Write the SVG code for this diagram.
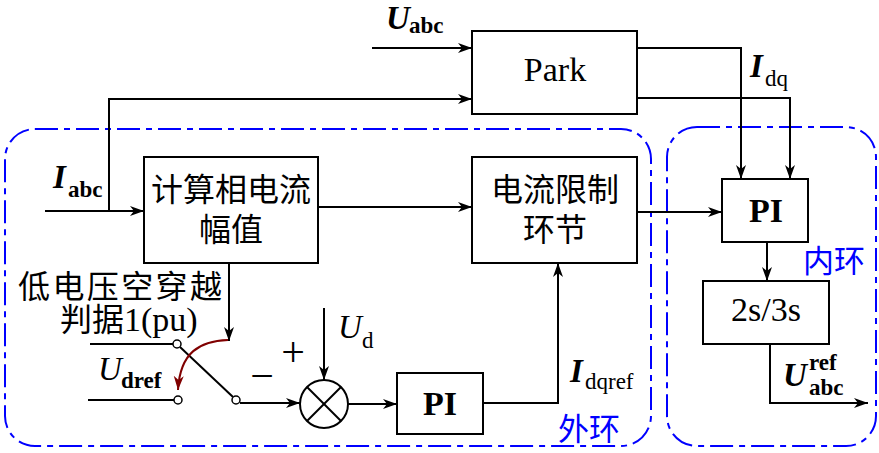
<svg xmlns="http://www.w3.org/2000/svg" width="879" height="453" viewBox="0 0 879 453">
<style>
.ln{fill:none;stroke:#000;stroke-width:2}
.box{fill:#fff;stroke:#000;stroke-width:2}
.loop{fill:none;stroke:#0000ff;stroke-width:2;stroke-dasharray:23 6 6 6}
.cjk{font-family:"Noto Sans CJK SC","Noto Sans CJK JP",sans-serif;font-size:32px;fill:#000}
.blue{fill:#0000ff;font-size:31px}
.lat{font-family:"Liberation Serif","Times New Roman",serif;fill:#000}
.big{font-size:34px}
.sym{font-size:33px;font-style:italic}
.b{font-weight:bold}
.sub{font-size:23px}
.ct{text-anchor:middle}
</style>
<defs>
<marker id="ar" markerUnits="userSpaceOnUse" markerWidth="16" markerHeight="12" refX="14" refY="5" orient="auto">
<path d="M0,0 L14,5 L0,10 L4,5 z" fill="#000"/>
</marker>
<marker id="arr" markerUnits="userSpaceOnUse" markerWidth="16" markerHeight="12" refX="14" refY="5" orient="auto">
<path d="M0,0 L14,5 L0,10 L4,5 z" fill="#800000"/>
</marker>
</defs>

<g id="loops">
<rect class="loop" x="5" y="129" width="646" height="317" rx="30"/>
<rect class="loop" x="667" y="127" width="209" height="319" rx="30"/>
<text class="cjk blue" x="558" y="440">外环</text>
<text class="cjk blue" x="803" y="272">内环</text>
</g>

<g id="connectors">
<line class="ln" x1="372" y1="48" x2="472" y2="48" marker-end="url(#ar)"/>
<polyline class="ln" points="109,211 109,99 472,99" marker-end="url(#ar)"/>
<line class="ln" x1="45" y1="211" x2="144" y2="211" marker-end="url(#ar)"/>
<line class="ln" x1="318" y1="207" x2="472" y2="207" marker-end="url(#ar)"/>
<polyline class="ln" points="637,48 741,48 741,179" marker-end="url(#ar)"/>
<polyline class="ln" points="637,98 790,98 790,179" marker-end="url(#ar)"/>
<line class="ln" x1="637" y1="212" x2="722" y2="212" marker-end="url(#ar)"/>
<line class="ln" x1="767" y1="242" x2="767" y2="281" marker-end="url(#ar)"/>
<polyline class="ln" points="770,344 770,403 868,403" marker-end="url(#ar)"/>
<line class="ln" x1="229" y1="263" x2="229" y2="341" marker-end="url(#ar)"/>
<line class="ln" x1="90" y1="344" x2="173" y2="344"/>
<line class="ln" x1="88" y1="400" x2="174" y2="400"/>
<line class="ln" x1="180" y1="347" x2="233" y2="397"/>
<line class="ln" x1="240" y1="403" x2="300" y2="403" marker-end="url(#ar)"/>
<line class="ln" x1="324" y1="308" x2="324" y2="380" marker-end="url(#ar)"/>
<line class="ln" x1="348" y1="404" x2="397" y2="404" marker-end="url(#ar)"/>
<polyline class="ln" points="483,403 558,403 558,263" marker-end="url(#ar)"/>
<path d="M228,340 C200,341 180,352 178,390" fill="none" stroke="#800000" stroke-width="2" marker-end="url(#arr)"/>
</g>

<g id="park">
<rect class="box" x="472" y="31" width="165" height="83"/>
<text class="lat big ct" x="555" y="81">Park</text>
</g>

<g id="amp">
<rect class="box" x="144" y="157" width="174" height="106"/>
<text class="cjk ct" x="231" y="201">计算相电流</text>
<text class="cjk ct" x="231" y="241">幅值</text>
</g>

<g id="limit">
<rect class="box" x="472" y="157" width="165" height="106"/>
<text class="cjk ct" x="555" y="201">电流限制</text>
<text class="cjk ct" x="555" y="241">环节</text>
</g>

<g id="pi_inner">
<rect class="box" x="722" y="179" width="86" height="63"/>
<text class="lat big b ct" x="766" y="222">PI</text>
</g>

<g id="conv">
<rect class="box" x="703" y="281" width="126" height="63"/>
<text class="lat big ct" x="766" y="321">2s/3s</text>
</g>

<g id="pi_outer">
<rect class="box" x="397" y="373" width="86" height="61"/>
<text class="lat big b ct" x="440" y="415">PI</text>
</g>

<g id="sum">
<circle cx="324" cy="404" r="24" fill="#fff" stroke="#000" stroke-width="2"/>
<line class="ln" x1="307" y1="387" x2="341" y2="421"/>
<line class="ln" x1="341" y1="387" x2="307" y2="421"/>
<text class="lat ct" x="293" y="366" font-size="42">+</text>
<text class="lat ct" x="262" y="390" font-size="42">−</text>
</g>

<g id="switch">
<circle cx="177" cy="344" r="4" fill="#fff" stroke="#000" stroke-width="1.5"/>
<circle cx="178" cy="400" r="4" fill="#fff" stroke="#000" stroke-width="1.5"/>
<circle cx="236" cy="400" r="4" fill="#fff" stroke="#000" stroke-width="1.5"/>
<text class="cjk" x="18" y="298" textLength="204" lengthAdjust="spacing">低电压空穿越</text>
<text x="60" y="331"><tspan class="cjk">判据</tspan><tspan class="lat big">1(pu)</tspan></text>
</g>

<g id="labels">
<text class="lat sym b" x="386" y="29">U</text>
<text class="lat sub b" x="409" y="33">abc</text>
<text class="lat sym b" x="53" y="188">I</text>
<text class="lat sub b" x="68" y="197">abc</text>
<text class="lat sym b" x="750" y="77">I</text>
<text class="lat sub" x="765" y="86">dq</text>
<text class="lat sym b" x="570" y="382">I</text>
<text class="lat sub" x="585" y="389">dqref</text>
<text class="lat sym" x="98" y="380">U</text>
<text class="lat sub b" x="121" y="388">dref</text>
<text class="lat sym" x="338" y="338">U</text>
<text class="lat sub" x="362" y="348">d</text>
<text class="lat sym b" x="783" y="386">U</text>
<text class="lat sub b" x="809" y="370">ref</text>
<text class="lat sub b" x="809" y="395">abc</text>
</g>
</svg>
